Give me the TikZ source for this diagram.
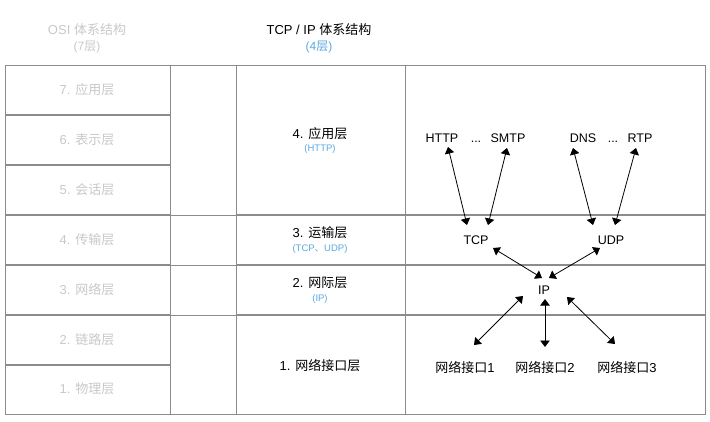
\documentclass[tikz,border=0pt]{standalone}
\usepackage{fontspec}
\setmainfont{Liberation Sans}
\newfontfamily\zhfont{Noto Sans CJK SC}
\newcommand{\zh}[1]{{\zhfont #1}}
\usetikzlibrary{arrows.meta}
\definecolor{rahmen}{RGB}{140,140,140}
\definecolor{osigrau}{RGB}{200,200,200}
\definecolor{hellblau}{RGB}{90,168,222}

\begin{document}
\begin{tikzpicture}[x=1pt, y=-1pt, font=\fontsize{13}{15}\selectfont,
    klein/.style={hellblau, font=\fontsize{9.5}{11}\selectfont},
    etikett/.style={font=\fontsize{12.5}{15}\selectfont},
    doppelpfeil/.style={black, line width=0.8pt, {Triangle[length=6.5pt,width=9.5pt]}-{Triangle[length=6.5pt,width=9.5pt]}}]

    \useasboundingbox (0,0) rectangle (710,421);

    % \draw[very thin, red] (0,0) grid[step=50] (710,421);

	\draw[rahmen, line width=0.8pt] (5,65) rectangle (705,414);
	\draw[rahmen, line width=0.8pt] (170,65) -- (170,414) (236,65) -- (236,414) (405,65) -- (405,414);
	\draw[rahmen, line width=1.4pt] (5,115) -- (170,115) (5,165) -- (170,165) (5,215) -- (170,215) (5,265) -- (170,265) (5,315) -- (170,315) (5,365) -- (170,365);
	\draw[rahmen, line width=0.8pt] (170,215) -- (236,215) (170,265) -- (236,265) (170,315) -- (236,315);
	\draw[rahmen, line width=1.4pt] (236,215) -- (705,215) (236,265) -- (705,265) (236,315) -- (705,315);

		\node[osigrau] (osikopf) at (87,30) {OSI \zh{体系结构}};
		\node[osigrau, font=\fontsize{12}{14}\selectfont] (osizahl) at (87,47) {(7\zh{层})};
		\node (tcpkopf) at (319,30) {TCP / IP \zh{体系结构}};
		\node[hellblau, font=\fontsize{12}{14}\selectfont] (tcpzahl) at (319,47) {(4\zh{层})};

		\node[osigrau] (osi7) at (87,90) {7. \zh{应用层}};
		\node[osigrau] (osi6) at (87,140) {6. \zh{表示层}};
		\node[osigrau] (osi5) at (87,190) {5. \zh{会话层}};
		\node[osigrau] (osi4) at (87,240) {4. \zh{传输层}};
		\node[osigrau] (osi3) at (87,290) {3. \zh{网络层}};
		\node[osigrau] (osi2) at (87,340) {2. \zh{链路层}};
		\node[osigrau] (osi1) at (87,389) {1. \zh{物理层}};

		\node (anw) at (320,134) {4. \zh{应用层}};
		\node[klein] (anwnote) at (320,149) {(HTTP)};
		\node (trans) at (320,233) {3. \zh{运输层}};
		\node[klein] (transnote) at (320,249) {(TCP\zh{、}UDP)};
		\node (netz) at (320,283) {2. \zh{网际层}};
		\node[klein] (netznote) at (320,299) {(IP)};
		\node (link) at (320,366) {1. \zh{网络接口层}};

		\node[etikett] (http) at (442,138) {HTTP};
		\node[etikett, anchor=base] (dots1) at (476,142.5) {...};
		\node[etikett] (smtp) at (508,138) {SMTP};
		\node[etikett] (dns) at (583,138) {DNS};
		\node[etikett, anchor=base] (dots2) at (613,142.5) {...};
		\node[etikett] (rtp) at (640,138) {RTP};
		\node[etikett] (tcp) at (476,240) {TCP};
		\node[etikett] (udp) at (611,240) {UDP};
		\node[etikett] (ip) at (544,290) {IP};
		\node (if1) at (465,367) {\zh{网络接口}1};
		\node (if2) at (545,367) {\zh{网络接口}2};
		\node (if3) at (627,367) {\zh{网络接口}3};

		\draw[doppelpfeil] ([shift={(6,9)}]http.center) -- ([shift={(-9,-15)}]tcp.center);
		\draw[doppelpfeil] ([shift={(-1,10)}]smtp.center) -- ([shift={(12,-15)}]tcp.center);
		\draw[doppelpfeil] ([shift={(-10,10)}]dns.center) -- ([shift={(-18,-15)}]udp.center);
		\draw[doppelpfeil] ([shift={(-4,10)}]rtp.center) -- ([shift={(4,-15)}]udp.center);
		\draw[doppelpfeil] ([shift={(17,8)}]tcp.center) -- ([shift={(-2,-12)}]ip.center);
		\draw[doppelpfeil] ([shift={(-11,8)}]udp.center) -- ([shift={(5,-12)}]ip.center);
		\draw[doppelpfeil] ([shift={(-21,6)}]ip.center) -- ([shift={(9,-22)}]if1.center);
		\draw[doppelpfeil] ([shift={(1,9)}]ip.center) -- ([shift={(0,-20)}]if2.center);
		\draw[doppelpfeil] ([shift={(23,7)}]ip.center) -- ([shift={(-12,-23)}]if3.center);

\end{tikzpicture}
\end{document}
